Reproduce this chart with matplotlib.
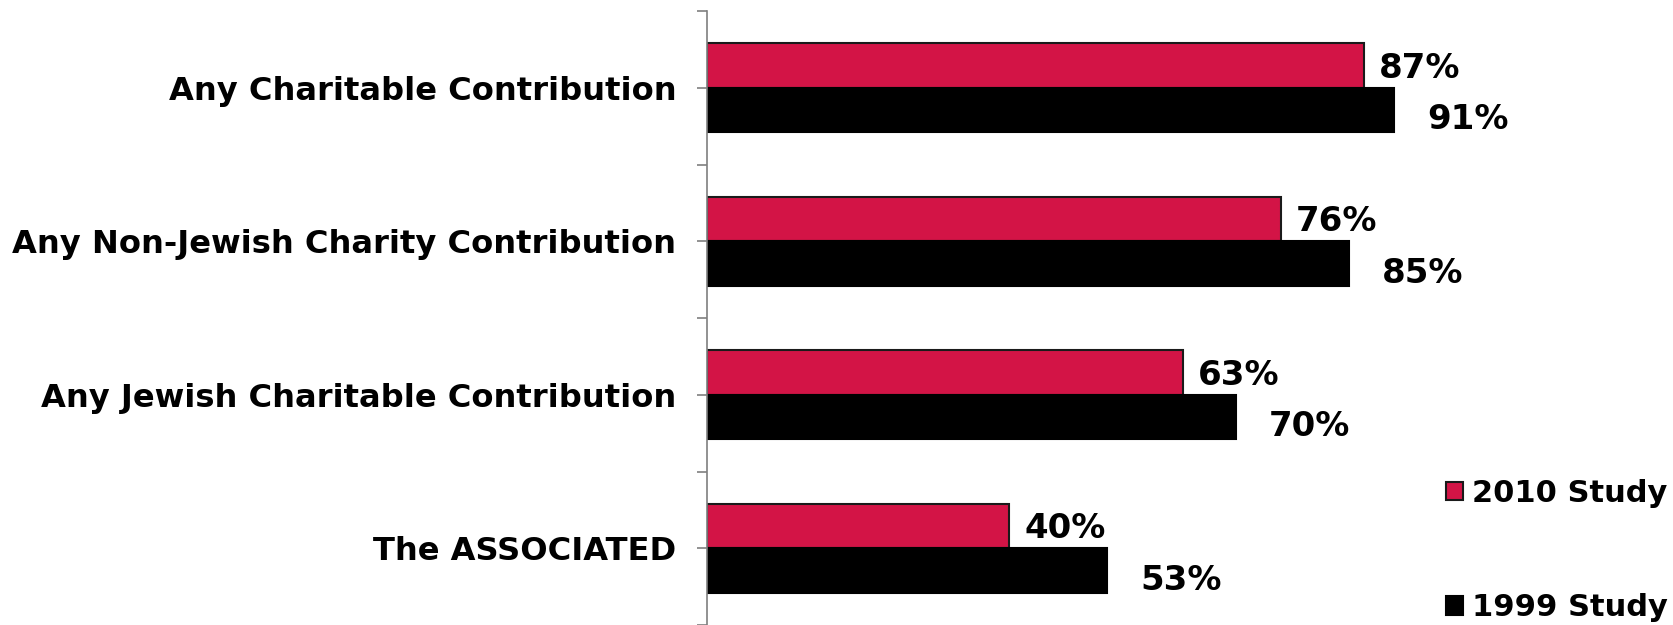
import numpy as np
import matplotlib
matplotlib.use("Agg")
import matplotlib.pyplot as plt

# data
categories = ["Any Charitable Contribution",
              "Any Non-Jewish Charity Contribution",
              "Any Jewish Charitable Contribution",
              "The ASSOCIATED"]
study_2010 = [87, 76, 63, 40]
study_1999 = [91, 85, 70, 53]

red = "#D31446"

fig = plt.figure(figsize=(16.74, 6.25), dpi=100)
ax = fig.add_axes([0.4223, 0.0, 0.4511, 0.9824])

y = np.arange(len(categories))
h = 0.29
bars_new = ax.barh(y - h / 2, study_2010, height=h, color=red,
                   edgecolor="#1a1a1a", linewidth=1.5, label="2010 Study")
bars_old = ax.barh(y + h / 2, study_1999, height=h, color="black",
                   edgecolor="black", linewidth=1.5, label="1999 Study")

# value labels
for b, v in zip(bars_new, study_2010):
    ax.annotate(f"{v}%", (b.get_width(), b.get_y() + b.get_height() / 2),
                xytext=(11, -2), textcoords="offset points",
                ha="left", va="center", fontsize=24.5, fontweight="bold")
for b, v in zip(bars_old, study_1999):
    ax.annotate(f"{v}%", (b.get_width(), b.get_y() + b.get_height() / 2),
                xytext=(24, -7), textcoords="offset points",
                ha="left", va="center", fontsize=24.5, fontweight="bold")

ax.set_xlim(0, 100)
ax.set_ylim(len(categories) - 0.5, -0.5)

# tick marks at category boundaries, labels at centres
ax.set_yticks(np.arange(len(categories) + 1) - 0.5)
ax.set_yticklabels([])
ax.set_yticks(y, minor=True)
ax.set_yticklabels(categories, minor=True, fontsize=23.1, fontweight="bold")
ax.tick_params(axis="y", which="major", length=7, width=1.2, color="#7f7f7f")
ax.tick_params(axis="y", which="minor", length=7, width=1.2, color="#7f7f7f", pad=15)
ax.set_xticks([])

for s in ["top", "right", "bottom"]:
    ax.spines[s].set_visible(False)
ax.spines["left"].set_color("#7f7f7f")
ax.spines["left"].set_linewidth(1.2)

leg = fig.legend(handles=[bars_new, bars_old], loc="center left",
                 bbox_to_anchor=(0.864, 0.119), frameon=False,
                 prop={"size": 22, "weight": "bold"},
                 handlelength=0.55, handleheight=0.55, handletextpad=0.3,
                 labelspacing=2.8, borderpad=0, borderaxespad=0)

fig.savefig("out.png", dpi=100)
